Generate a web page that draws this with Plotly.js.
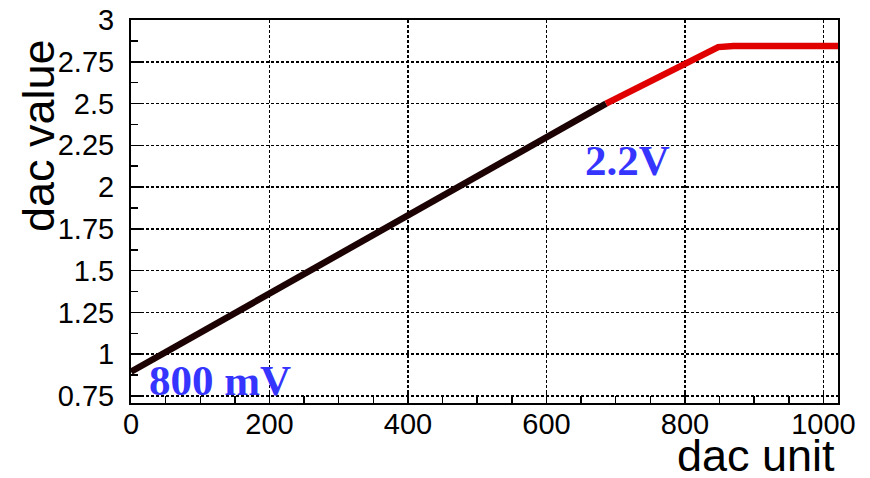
<!DOCTYPE html>
<html>
<head>
<meta charset="utf-8">
<script src="https://cdn.plot.ly/plotly-3.0.1.min.js"></script>
<style>html,body{margin:0;padding:0;background:#fff;}#chart{width:870px;height:478px;}</style>
</head>
<body>
<div id="chart"></div>
<script>
// Data
var blackX = [0, 686];
var blackY = [0.895, 2.5];
var redX = [686, 848, 870, 1021];
var redY = [2.5, 2.838, 2.845, 2.845];
var xTickVals = [0, 200, 400, 600, 800, 1000];
var yTickVals = [0.75, 1, 1.25, 1.5, 1.75, 2, 2.25, 2.5, 2.75, 3];
var yTickText = ['0.75', '1', '1.25', '1.5', '1.75', '2', '2.25', '2.5', '2.75', '3'];
var xTitle = 'dac unit';
var yTitle = 'dac value';
var labelLow = {text: '800 mV', x: 128, y: 0.84};
var labelHigh = {text: '2.2V', x: 717, y: 2.162};

var tickFont = {family: '"Liberation Sans", Arial, sans-serif', size: 29, color: '#000'};
var titleFont = {family: '"Liberation Sans", Arial, sans-serif', size: 45, color: '#000'};
var noteFont = {family: '"Liberation Serif", "Times New Roman", serif', size: 43, color: '#3535ff'};

var traces = [
  {x: blackX, y: blackY, mode: 'lines', line: {color: '#1c0202', width: 6.5}, showlegend: false, hoverinfo: 'skip'},
  {x: redX, y: redY, mode: 'lines', line: {color: '#e00000', width: 6.5}, showlegend: false, hoverinfo: 'skip'}
];

var layout = {
  width: 870, height: 478,
  margin: {l: 131, r: 32, t: 20, b: 75},
  paper_bgcolor: '#fff', plot_bgcolor: '#fff',
  showlegend: false,
  xaxis: {
    range: [0, 1021], tickmode: 'array', tickvals: xTickVals,
    ticks: 'inside', ticklen: 12, tickwidth: 1.5, tickcolor: '#000',
    minor: {dtick: 50, tick0: 0, ticks: 'inside', ticklen: 7, tickwidth: 1.5, tickcolor: '#000', showgrid: false},
    showgrid: true, gridcolor: '#000', gridwidth: 1.5, griddash: '3px,2px',
    showline: true, linecolor: '#000', linewidth: 2, mirror: true,
    zeroline: false, tickfont: tickFont, ticklabelstandoff: -6
  },
  yaxis: {
    range: [0.708, 3.0], tickmode: 'array', tickvals: yTickVals, ticktext: yTickText,
    ticks: 'inside', ticklen: 12, tickwidth: 1.5, tickcolor: '#000',
    minor: {dtick: 0.125, tick0: 0.75, ticks: 'inside', ticklen: 7, tickwidth: 1.5, tickcolor: '#000', showgrid: false},
    showgrid: true, gridcolor: '#000', gridwidth: 1.5, griddash: '3px,2px',
    showline: true, linecolor: '#000', linewidth: 2, mirror: true,
    zeroline: false, tickfont: tickFont, ticklabelstandoff: 9
  },
  annotations: [
    {text: yTitle, xref: 'paper', yref: 'paper', x: -0.1315, y: 0.697, xanchor: 'center', yanchor: 'middle', textangle: -90, showarrow: false, font: titleFont},
    {text: xTitle, xref: 'paper', yref: 'paper', x: 0.9986, y: -0.136, xanchor: 'right', yanchor: 'middle', showarrow: false, font: titleFont},
    {text: '<b>' + labelLow.text + '</b>', xref: 'x', yref: 'y', x: labelLow.x, y: labelLow.y, xanchor: 'center', yanchor: 'middle', showarrow: false, font: noteFont},
    {text: '<b>' + labelHigh.text + '</b>', xref: 'x', yref: 'y', x: labelHigh.x, y: labelHigh.y, xanchor: 'center', yanchor: 'middle', showarrow: false, font: noteFont}
  ]
};

Plotly.newPlot('chart', traces, layout, {staticPlot: true, displayModeBar: false});
</script>
</body>
</html>
